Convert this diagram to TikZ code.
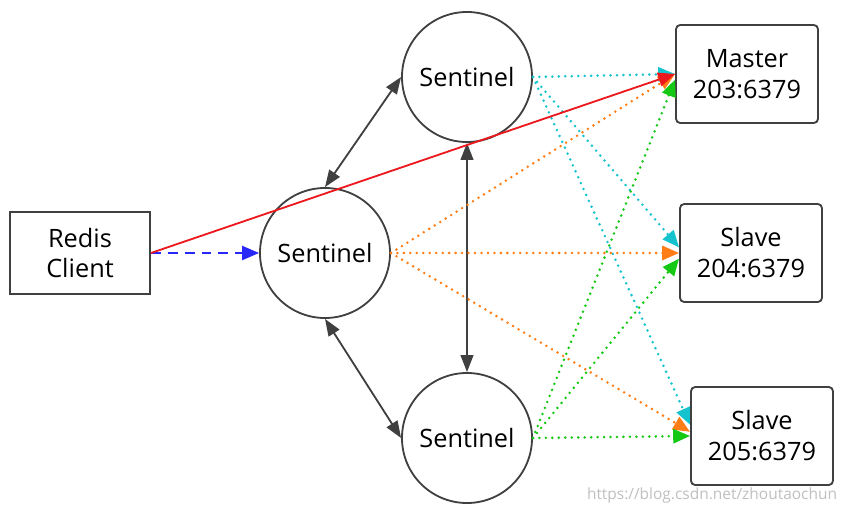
\documentclass[tikz,border=0pt]{standalone}
\usepackage{fontspec}
\setmainfont{Open Sans}
\usepackage{xcolor}
\usetikzlibrary{arrows.meta,positioning}

\definecolor{boxgray}{RGB}{64,64,64}
\definecolor{linkred}{RGB}{235,25,30}
\definecolor{linkblue}{RGB}{40,40,250}
\definecolor{linkcyan}{RGB}{20,195,205}
\definecolor{linkorange}{RGB}{255,125,20}
\definecolor{linkgreen}{RGB}{20,200,20}

\begin{document}
\begin{tikzpicture}[
  x=0.025cm, y=-0.025cm,
  font=\fontsize{18}{22}\selectfont,
  server/.style={draw=boxgray,line width=1.3pt,rounded corners=3pt,minimum width=3.55cm,minimum height=2.45cm,align=center},
  client/.style={draw=boxgray,line width=1.3pt,minimum width=3.5cm,minimum height=2.07cm,align=center},
  sentinel/.style={draw=boxgray,line width=1.3pt,circle,minimum size=3.25cm,inner sep=0pt},
  tip/.style={-{Triangle[length=12pt,width=10pt]}},
  peer/.style={{Triangle[length=12pt,width=9pt]}-{Triangle[length=12pt,width=9pt]},draw=boxgray,line width=1.3pt},
  watch/.style={tip,line width=2pt,dash pattern=on 0pt off 4.6pt,line cap=round},
]
\useasboundingbox (0,0) rectangle (848,512);

\node[client]   (client) at (80,253)  {Redis\\Client};
\node[sentinel] (midS)   at (325,253) {Sentinel};
\node[sentinel] (topS)   at (467,77)  {Sentinel};
\node[sentinel] (botS)   at (467,438) {Sentinel};
\node[server]   (master) at (747,74)  {Master\\203:6379};
\node[server]   (slaveA) at (751,253) {Slave\\204:6379};
\node[server]   (slaveB) at (762,436) {Slave\\205:6379};

% sentinels talk to each other
\draw[peer] (topS.west)  -- (midS.north);
\draw[peer] (midS.south) -- (botS.west);
\draw[peer] (topS.south) -- (botS.north);

% sentinels watch master and slaves
\draw[watch,linkcyan]   (topS.east) -- (master.west);
\draw[watch,linkcyan]   (topS.east) -- ([yshift=4pt]slaveA.west);
\draw[watch,linkcyan]   (topS.east) -- ([yshift=8pt]slaveB.west);
\draw[watch,linkorange] (midS.east) -- (master.west);
\draw[watch,linkorange] (midS.east) -- (slaveA.west);
\draw[watch,linkorange] (midS.east) -- ([yshift=3pt]slaveB.west);
\draw[watch,linkgreen]  (botS.east) -- ([yshift=-4pt]master.west);
\draw[watch,linkgreen]  (botS.east) -- ([yshift=-4pt]slaveA.west);
\draw[watch,linkgreen]  (botS.east) -- (slaveB.west);

% client
\draw[tip,linkblue,line width=1.3pt,dash pattern=on 7pt off 5pt] (client.east) -- (midS.west);
\draw[tip,linkred,line width=1.3pt] (client.east) -- (master.west);

\node[text=black!25,font=\fontsize{11}{13}\selectfont,anchor=east] (url) at (842,495) {https://blog.csdn.net/zhoutaochun};
\end{tikzpicture}
\end{document}
